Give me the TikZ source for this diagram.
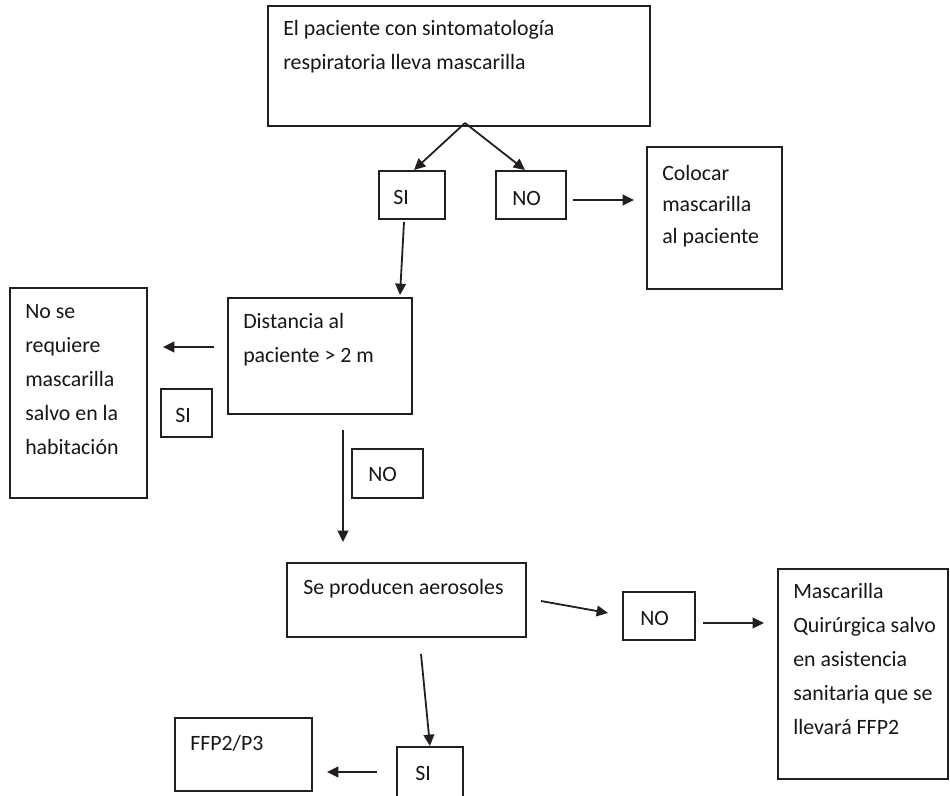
\documentclass[tikz,border=0pt]{standalone}
\usepackage{fontspec}
\setmainfont{Carlito}
\usetikzlibrary{arrows.meta,fit,calc}
\definecolor{linec}{RGB}{35,31,32}
\definecolor{txtc}{RGB}{25,22,22}
\newcommand{\mlines}[2][1]{{\renewcommand{\arraystretch}{#1}\begin{tabular}[t]{@{}l@{}}#2\end{tabular}}}
\begin{document}
\begin{tikzpicture}[x=0.75pt,y=-0.75pt,
  box/.style={draw=linec, line width=1.35pt, inner sep=0pt, fit={#1}},
  txt/.style={anchor=base west, inner sep=0pt, text=txtc,
    font=\fontsize{16.4}{25.5}\selectfont},
  arr/.style={draw=linec, line width=1.35pt, -{Triangle[length=8.5pt,width=8pt]}}]
\useasboundingbox (0,0) rectangle (950,796);
\fill[white] (0,0) rectangle (950,796);

% boxes
\node[box={(268,6) (650,126)}] (top) {};
\node[box={(379,171) (445,219)}] (si1) {};
\node[box={(496,171) (566,219)}] (no1) {};
\node[box={(647,147) (782,289)}] (col) {};
\node[box={(228,298) (412,414)}] (dist) {};
\node[box={(10,288) (147,498)}] (nose) {};
\node[box={(161,389) (212,437)}] (si2) {};
\node[box={(352,449) (423,498)}] (no2) {};
\node[box={(287,563) (526,637)}] (aer) {};
\node[box={(623,592) (695,640)}] (no3) {};
\node[box={(778,569) (948,779)}] (masc) {};
\node[box={(175,718) (312,791)}] (ffp) {};
\node[box={(397,747) (463,797)}] (si3) {};

% texts
\node[txt] (topT) at (283,35) {\mlines{El paciente con sintomatología\\respiratoria lleva mascarilla}};
\node[txt] (si1T) at (393,204) {SI};
\node[txt] (no1T) at (512,205) {NO};
\node[txt] (colT) at (662,180) {\mlines[0.941]{Colocar\\mascarilla\\al paciente}};
\node[txt] (distT) at (243,328) {\mlines{Distancia al\\paciente > 2 m}};
\node[txt] (noseT) at (25,318) {\mlines{No se\\requiere\\mascarilla\\salvo en la\\habitación}};
\node[txt] (si2T) at (175,422) {SI};
\node[txt] (no2T) at (368,481) {NO};
\node[txt] (aerT) at (303,594) {Se producen aerosoles};
\node[txt] (no3T) at (640,625) {NO};
\node[txt] (mascT) at (793,598) {\mlines{Mascarilla\\Quirúrgica salvo\\en asistencia\\sanitaria que se\\llevará FFP2}};
\node[txt] (ffpT) at (190,750) {FFP2/P3};
\node[txt] (si3T) at (415,780) {SI};

% free connector ends
\coordinate (a1s) at (465,123);
\coordinate (a1e) at (414,170);
\coordinate (a2e) at (525,170);
\coordinate (a3s) at (573,200);
\coordinate (a3e) at (634,200);
\coordinate (a4s) at (404,222);
\coordinate (a4e) at (400,295);
\coordinate (a5s) at (214,347);
\coordinate (a5e) at (163,347);
\coordinate (a6s) at (343,430);
\coordinate (a6e) at (343,542);
\coordinate (a7s) at (541,601);
\coordinate (a7e) at (608,613);
\coordinate (a8s) at (703,623);
\coordinate (a8e) at (764,623);
\coordinate (a9s) at (421,654);
\coordinate (a9e) at (430,746);
\coordinate (a10s) at (377,772);
\coordinate (a10e) at (327,772);

% connectors
\draw[arr] (a1s) -- (a1e);
\draw[arr] (a1s) -- (a2e);
\draw[arr] (a3s) -- (a3e);
\draw[arr] (a4s) -- (a4e);
\draw[arr] (a5s) -- (a5e);
\draw[arr] (a6s) -- (a6e);
\draw[arr] (a7s) -- (a7e);
\draw[arr] (a8s) -- (a8e);
\draw[arr] (a9s) -- (a9e);
\draw[arr] (a10s) -- (a10e);
\end{tikzpicture}
\end{document}
